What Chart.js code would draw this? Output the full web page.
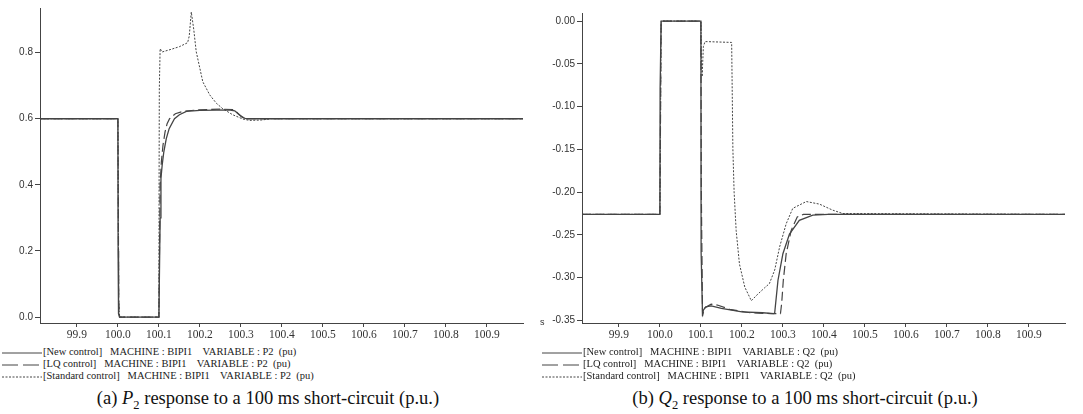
<!DOCTYPE html>
<html>
<head>
<meta charset="utf-8">
<script src="https://cdn.jsdelivr.net/npm/chart.js@4.4.1/dist/chart.umd.min.js"></script>
<style>
  body { margin: 0; background: #fff; }
  #page { position: relative; width: 1083px; height: 414px; overflow: hidden; background: #fff; }
  .plot { position: absolute; top: 0; height: 345px; }
  .leg { position: absolute; font-family: "Liberation Serif", "DejaVu Serif", serif; font-size: 10.5px; color: #222; white-space: pre; line-height: 12px; }
  .leg svg { vertical-align: middle; margin-right: 1px; }
  .cap { position: absolute; top: 388px; font-family: "Liberation Serif", "DejaVu Serif", serif; font-size: 18.5px; color: #111; text-align: center; }
  .cap sub { font-size: 12.5px; }
  .unit { position: absolute; font-family: "Liberation Sans", sans-serif; font-size: 9px; color: #333; }
</style>
</head>
<body>
<div id="page">
  <div class="plot" style="left:0;width:540px"><canvas id="graficoP2"></canvas></div>
  <div class="plot" style="left:540px;width:543px"><canvas id="graficoQ2"></canvas></div>
  <div class="unit" style="left:540px;top:317px">s</div>
  <div id="legP2"></div>
  <div id="legQ2"></div>
  <div class="cap" style="left:28px;width:480px">(a) <i>P</i><sub>2</sub> response to a 100 ms short-circuit (p.u.)</div>
  <div class="cap" style="left:565px;width:480px">(b) <i>Q</i><sub>2</sub> response to a 100 ms short-circuit (p.u.)</div>
</div>
<script>
// ---- datos ----
const xTicks = [99.9, 100.0, 100.1, 100.2, 100.3, 100.4, 100.5, 100.6, 100.7, 100.8, 100.9];
const p2Ticks = [0.0, 0.2, 0.4, 0.6, 0.8];
const q2Ticks = [0.00, -0.05, -0.10, -0.15, -0.20, -0.25, -0.30, -0.35];

const seriesNames = ['[New control]', '[LQ control]', '[Standard control]'];

// P2 - New control
const tP2New = [99.81, 100.0, 100.0005, 100.001, 100.002, 100.004, 100.1, 100.101, 100.103, 100.105, 100.108, 100.112, 100.118, 100.125, 100.138, 100.15, 100.167, 100.2, 100.24, 100.27, 100.285, 100.293, 100.303, 100.31, 100.317, 100.988];
const p2New  = [0.6, 0.6, 0.2, 0.19, 0.01, 0.0, 0.0, 0.1, 0.3, 0.42, 0.46, 0.5, 0.54, 0.57, 0.6, 0.612, 0.622, 0.625, 0.626, 0.627, 0.624, 0.615, 0.605, 0.601, 0.6, 0.6];

// P2 - LQ control
const tP2LQ = [99.81, 100.0, 100.002, 100.004, 100.1, 100.101, 100.103, 100.106, 100.11, 100.115, 100.12, 100.126, 100.14, 100.16, 100.2, 100.25, 100.28, 100.29, 100.3, 100.31, 100.32, 100.988];
const p2LQ  = [0.6, 0.6, 0.05, 0.0, 0.0, 0.15, 0.4, 0.47, 0.52, 0.56, 0.585, 0.6, 0.615, 0.623, 0.627, 0.629, 0.628, 0.62, 0.608, 0.601, 0.6, 0.6];

// P2 - Standard control
const tP2Std = [99.81, 100.0, 100.002, 100.004, 100.1, 100.1005, 100.101, 100.103, 100.108, 100.13, 100.15, 100.17, 100.174, 100.179, 100.185, 100.191, 100.207, 100.224, 100.24, 100.256, 100.28, 100.305, 100.321, 100.35, 100.374, 100.988];
const p2Std  = [0.6, 0.6, 0.05, 0.0, 0.0, 0.45, 0.69, 0.812, 0.802, 0.81, 0.818, 0.83, 0.85, 0.923, 0.87, 0.803, 0.712, 0.672, 0.647, 0.63, 0.612, 0.599, 0.595, 0.596, 0.6, 0.6];

// Q2 - New control
const tQ2New = [99.81, 100.0, 100.0005, 100.003, 100.1, 100.1005, 100.104, 100.106, 100.112, 100.125, 100.15, 100.2, 100.25, 100.278, 100.28, 100.288, 100.3, 100.316, 100.34, 100.373, 100.41, 100.988];
const q2New  = [-0.226, -0.226, -0.08, 0.0, 0.0, -0.27, -0.345, -0.338, -0.334, -0.333, -0.336, -0.34, -0.341, -0.342, -0.341, -0.303, -0.272, -0.249, -0.233, -0.227, -0.226, -0.226];

// Q2 - LQ control
const tQ2LQ = [99.81, 100.0, 100.003, 100.1, 100.101, 100.104, 100.11, 100.125, 100.14, 100.17, 100.22, 100.27, 100.294, 100.297, 100.301, 100.308, 100.32, 100.335, 100.35, 100.988];
const q2LQ  = [-0.226, -0.226, 0.0, 0.0, -0.2, -0.343, -0.335, -0.331, -0.332, -0.337, -0.341, -0.342, -0.342, -0.33, -0.303, -0.272, -0.245, -0.229, -0.226, -0.226];

// Q2 - Standard control
const tQ2Std = [99.81, 100.0, 100.003, 100.1, 100.101, 100.103, 100.106, 100.11, 100.175, 100.178, 100.181, 100.186, 100.194, 100.207, 100.223, 100.235, 100.255, 100.267, 100.28, 100.292, 100.308, 100.324, 100.357, 100.389, 100.421, 100.446, 100.988];
const q2Std  = [-0.226, -0.226, 0.0, 0.0, -0.04, -0.065, -0.03, -0.024, -0.025, -0.15, -0.2, -0.245, -0.284, -0.311, -0.327, -0.321, -0.312, -0.307, -0.291, -0.264, -0.237, -0.219, -0.211, -0.214, -0.221, -0.225, -0.226];

const colorLinea = '#444';
const fuenteSerif = "'Liberation Serif', 'DejaVu Serif', serif";
const estilos = [
  { dash: [], width: 1.3 },
  { dash: [9, 4], width: 1.2 },
  { dash: [2, 1.5], width: 1 }
];

function puntos(ts, vs) {
  return ts.map((t, i) => ({ x: t, y: vs[i] }));
}

function crearGrafica(id, series, yTicks, yMin, yMax, yWidth, padTop, padRight, decimales) {
  const ctx = document.getElementById(id);
  new Chart(ctx, {
    type: 'line',
    data: {
      datasets: series.map((s, i) => ({
        label: seriesNames[i],
        data: puntos(s[0], s[1]),
        borderColor: colorLinea,
        borderWidth: estilos[i].width,
        borderDash: estilos[i].dash,
        pointRadius: 0,
        tension: 0,
        fill: false
      }))
    },
    options: {
      responsive: true,
      maintainAspectRatio: false,
      animation: false,
      layout: { padding: { top: padTop, right: padRight, left: 0, bottom: 0 } },
      plugins: { legend: { display: false }, tooltip: { enabled: false } },
      scales: {
        x: {
          type: 'linear',
          min: 99.81,
          max: 100.988,
          afterBuildTicks: s => { s.ticks = xTicks.map(v => ({ value: v })); },
          afterFit: s => { s.height = 22; },
          grid: { display: true, drawOnChartArea: false, tickLength: 4, color: colorLinea },
          border: { color: colorLinea, width: 1 },
          ticks: {
            autoSkip: false, maxRotation: 0, padding: 1, color: '#333',
            font: { family: fuenteSerif, size: 11.5 },
            callback: v => v.toFixed(1)
          }
        },
        y: {
          type: 'linear',
          min: yMin,
          max: yMax,
          afterBuildTicks: s => { s.ticks = yTicks.map(v => ({ value: v })); },
          afterFit: s => { s.width = yWidth; },
          grid: { display: true, drawOnChartArea: false, tickLength: 5, color: colorLinea },
          border: { color: colorLinea, width: 1 },
          ticks: {
            padding: 2, color: '#333',
            font: { family: "'Liberation Sans', sans-serif", size: 10 },
            callback: v => v.toFixed(decimales)
          }
        }
      }
    }
  });
}

function crearLeyenda(id, left, variable) {
  const cont = document.getElementById(id);
  const tops = [346, 358, 370];
  seriesNames.forEach((nombre, i) => {
    const d = document.createElement('div');
    d.className = 'leg';
    d.style.left = left + 'px';
    d.style.top = tops[i] + 'px';
    const dash = estilos[i].dash.length ? (i === 1 ? '16 5' : '2 1.5') : 'none';
    d.innerHTML = '<svg width="40" height="6"><line x1="0" y1="3" x2="40" y2="3" stroke="#444" stroke-width="1" stroke-dasharray="' + dash + '"/></svg>' +
      nombre + '   MACHINE : BIPI1    VARIABLE : ' + variable + '  (pu)';
    cont.appendChild(d);
  });
}

crearGrafica('graficoP2', [[tP2New, p2New], [tP2LQ, p2LQ], [tP2Std, p2Std]], p2Ticks, -0.018, 0.935, 40, 6, 17, 1);
crearGrafica('graficoQ2', [[tQ2New, q2New], [tQ2LQ, q2LQ], [tQ2Std, q2Std]], q2Ticks, -0.353, 0.0094, 42, 13, 18, 2);
crearLeyenda('legP2', 2, 'P2');
crearLeyenda('legQ2', 542, 'Q2');
</script>
</body>
</html>
